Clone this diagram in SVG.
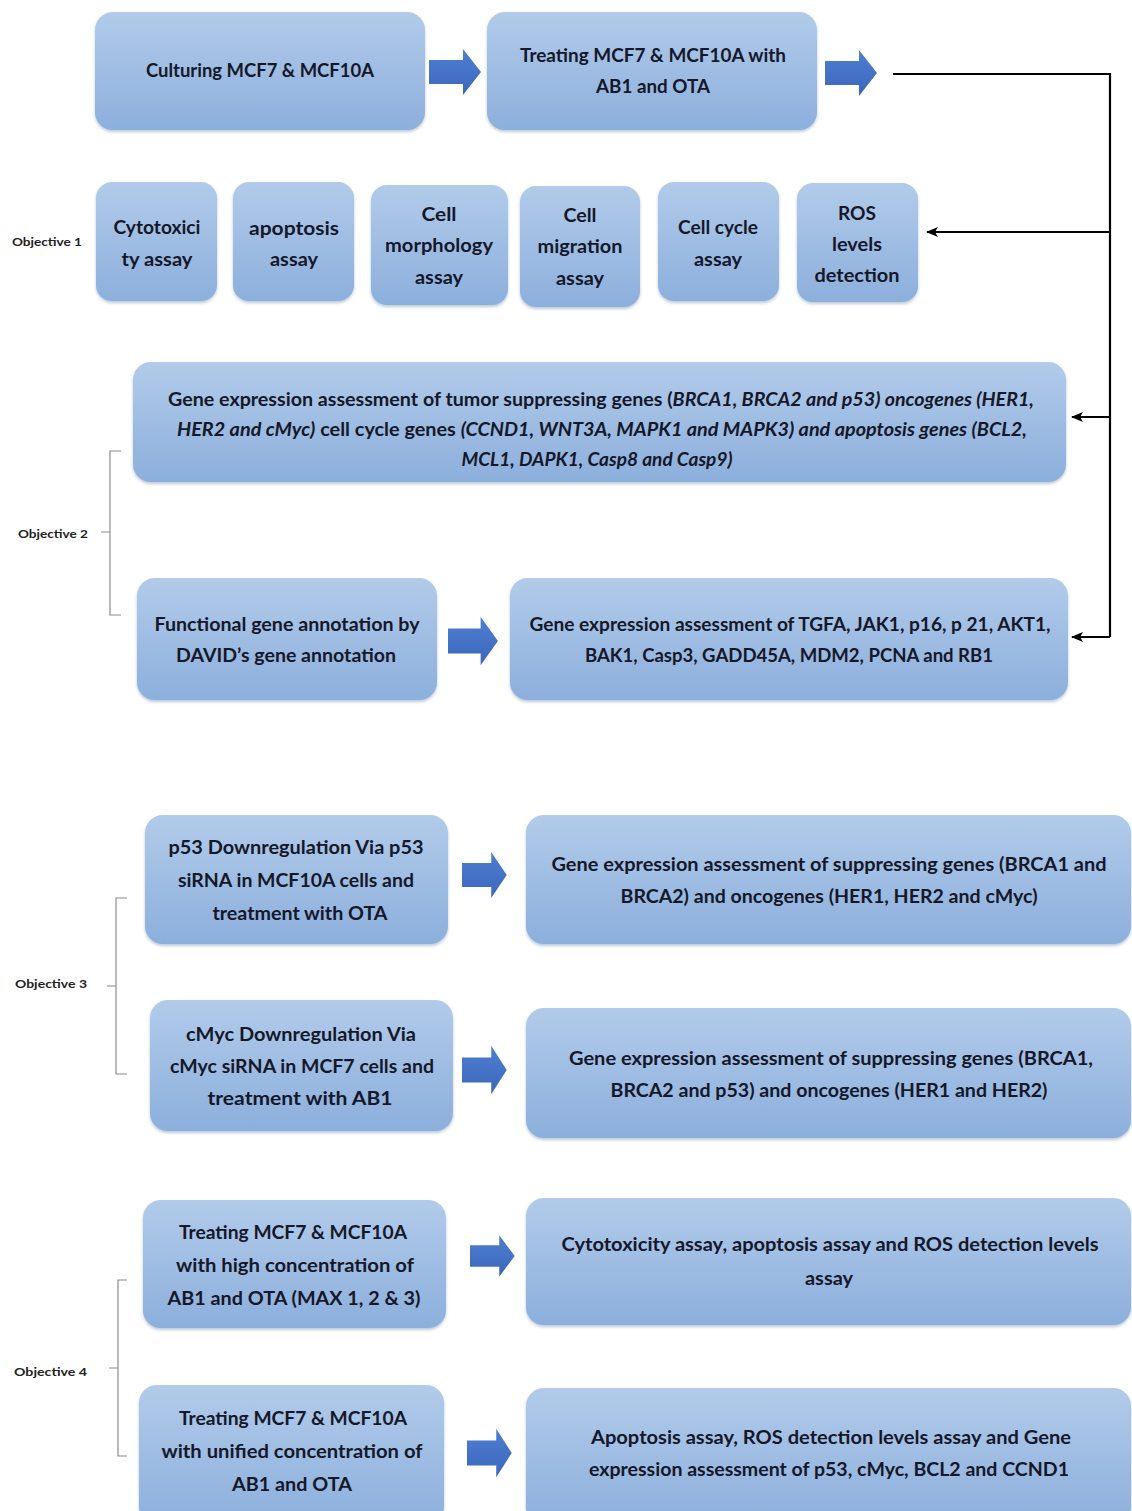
<svg xmlns="http://www.w3.org/2000/svg" width="1132" height="1511" viewBox="0 0 1132 1511">
<defs>
<linearGradient id="boxg" x1="0" y1="0" x2="0" y2="1">
<stop offset="0" stop-color="#b2cbea"/>
<stop offset="1" stop-color="#8cafdc"/>
</linearGradient>
<linearGradient id="arrg" x1="0" y1="0" x2="0" y2="1">
<stop offset="0" stop-color="#4f7fd0"/>
<stop offset="1" stop-color="#3b66bd"/>
</linearGradient>
<filter id="sh" x="-5%" y="-5%" width="110%" height="115%">
<feDropShadow dx="0" dy="2" stdDeviation="1.5" flood-color="#6a86ad" flood-opacity="0.45"/>
</filter>
<marker id="ah" markerWidth="12" markerHeight="10" refX="11" refY="5" orient="auto" markerUnits="userSpaceOnUse">
<path d="M0,0 L12,5 L0,10 L3,5 Z" fill="#000"/>
</marker>
<path id="barrow" d="M0,-12 H34 V-23 L52,0 L34,23 V12 H0 Z"/>
</defs>
<style>
.box{fill:url(#boxg);filter:url(#sh);}
.t{font-family:Lato,"Liberation Sans",sans-serif;font-weight:bold;font-size:18px;fill:#14182a;text-anchor:middle;}
.obj{font-family:Lato,"Liberation Sans",sans-serif;font-weight:bold;font-size:12px;fill:#222;}
.i{font-style:italic;}
.ba{fill:url(#arrg);}
.con{fill:none;stroke:#000;stroke-width:2.2;}
.br{fill:none;stroke:#8c8c8c;stroke-width:1.2;}
</style>
<rect width="1132" height="1511" fill="#fff"/>

<g id="connectors">
<path class="con" d="M893,74 H1110 V637"/>
<path class="con" d="M1110,232 H927" marker-end="url(#ah)"/>
<path class="con" d="M1110,417 H1072" marker-end="url(#ah)"/>
<path class="con" d="M1110,637 H1072" marker-end="url(#ah)"/>
<use href="#barrow" class="ba" transform="translate(429,72)"/>
<use href="#barrow" class="ba" transform="translate(825,73)"/>
<use href="#barrow" class="ba" transform="translate(448,641) scale(0.96,1.05)"/>
<use href="#barrow" class="ba" transform="translate(462,875) scale(0.86,1)"/>
<use href="#barrow" class="ba" transform="translate(462,1070) scale(0.86,1.05)"/>
<use href="#barrow" class="ba" transform="translate(470,1256) scale(0.86,0.9)"/>
<use href="#barrow" class="ba" transform="translate(467,1453) scale(0.86,1.05)"/>
</g>

<g id="brackets">
<path class="br" d="M121,451 H110 V615 H121 M110,532 H101"/>
<path class="br" d="M127,898 H116 V1074 H127 M116,986 H107"/>
<path class="br" d="M127,1280 H118 V1456 H127 M118,1368 H109"/>
</g>

<g id="labels">
<text class="obj" x="12" y="246" textLength="70" lengthAdjust="spacingAndGlyphs">Objective 1</text>
<text class="obj" x="18" y="538" textLength="70" lengthAdjust="spacingAndGlyphs">Objective 2</text>
<text class="obj" x="15" y="988" textLength="72" lengthAdjust="spacingAndGlyphs">Objective 3</text>
<text class="obj" x="14" y="1376" textLength="73" lengthAdjust="spacingAndGlyphs">Objective 4</text>
</g>

<g id="n-culturing">
<rect class="box" x="95" y="12" width="330" height="118" rx="18"/>
<text class="t" x="260" y="77" textLength="228" lengthAdjust="spacingAndGlyphs">Culturing MCF7 &amp; MCF10A</text>
</g>
<g id="n-treating">
<rect class="box" x="487" y="12" width="330" height="118" rx="18"/>
<text class="t" x="653" y="62" textLength="266" lengthAdjust="spacingAndGlyphs">Treating MCF7 &amp; MCF10A with</text>
<text class="t" x="653" y="93" textLength="114" lengthAdjust="spacingAndGlyphs">AB1 and OTA</text>
</g>

<g id="n-cytotox">
<rect class="box" x="96" y="182" width="121" height="119" rx="16"/>
<text class="t" x="157" y="234" textLength="87" lengthAdjust="spacingAndGlyphs">Cytotoxici</text>
<text class="t" x="157" y="266" textLength="71" lengthAdjust="spacingAndGlyphs">ty assay</text>
</g>
<g id="n-apoptosis">
<rect class="box" x="233" y="182" width="121" height="119" rx="16"/>
<text class="t" x="294" y="235" textLength="90" lengthAdjust="spacingAndGlyphs">apoptosis</text>
<text class="t" x="294" y="266" textLength="48" lengthAdjust="spacingAndGlyphs">assay</text>
</g>
<g id="n-morphology">
<rect class="box" x="371" y="185" width="137" height="120" rx="16"/>
<text class="t" x="439" y="221" textLength="35" lengthAdjust="spacingAndGlyphs">Cell</text>
<text class="t" x="439" y="252" textLength="108" lengthAdjust="spacingAndGlyphs">morphology</text>
<text class="t" x="439" y="284" textLength="48" lengthAdjust="spacingAndGlyphs">assay</text>
</g>
<g id="n-migration">
<rect class="box" x="520" y="186" width="120" height="121" rx="16"/>
<text class="t" x="580" y="222" textLength="33" lengthAdjust="spacingAndGlyphs">Cell</text>
<text class="t" x="580" y="253" textLength="85" lengthAdjust="spacingAndGlyphs">migration</text>
<text class="t" x="580" y="285" textLength="48" lengthAdjust="spacingAndGlyphs">assay</text>
</g>
<g id="n-cellcycle">
<rect class="box" x="658" y="182" width="121" height="119" rx="16"/>
<text class="t" x="718" y="234" textLength="80" lengthAdjust="spacingAndGlyphs">Cell cycle</text>
<text class="t" x="718" y="266" textLength="48" lengthAdjust="spacingAndGlyphs">assay</text>
</g>
<g id="n-ros">
<rect class="box" x="797" y="183" width="121" height="119" rx="16"/>
<text class="t" x="857" y="220" textLength="38" lengthAdjust="spacingAndGlyphs">ROS</text>
<text class="t" x="857" y="251" textLength="50" lengthAdjust="spacingAndGlyphs">levels</text>
<text class="t" x="857" y="282" textLength="85" lengthAdjust="spacingAndGlyphs">detection</text>
</g>

<g id="n-gene1">
<rect class="box" x="133" y="362" width="933" height="120" rx="18"/>
<text class="t" x="601" y="406" textLength="866" lengthAdjust="spacingAndGlyphs">Gene expression assessment of tumor suppressing genes (<tspan class="i">BRCA1, BRCA2 and p53) oncogenes (HER1,</tspan></text>
<text class="t" x="602" y="436" textLength="850" lengthAdjust="spacingAndGlyphs"><tspan class="i">HER2 and cMyc)</tspan> cell cycle genes <tspan class="i">(CCND1, WNT3A, MAPK1 and MAPK3) and apoptosis genes (BCL2,</tspan></text>
<text class="t i" x="597" y="466" textLength="271" lengthAdjust="spacingAndGlyphs">MCL1, DAPK1, Casp8 and Casp9)</text>
</g>

<g id="n-functional">
<rect class="box" x="137" y="578" width="300" height="122" rx="18"/>
<text class="t" x="287" y="631" textLength="265" lengthAdjust="spacingAndGlyphs">Functional gene annotation by</text>
<text class="t" x="286" y="662" textLength="220" lengthAdjust="spacingAndGlyphs">DAVID’s gene annotation</text>
</g>
<g id="n-gene2">
<rect class="box" x="510" y="578" width="558" height="122" rx="18"/>
<text class="t" x="790" y="631" textLength="521" lengthAdjust="spacingAndGlyphs">Gene expression assessment of TGFA, JAK1, p16, p 21, AKT1,</text>
<text class="t" x="789" y="662" textLength="408" lengthAdjust="spacingAndGlyphs">BAK1, Casp3, GADD45A, MDM2, PCNA and RB1</text>
</g>

<g id="n-p53">
<rect class="box" x="145" y="815" width="303" height="129" rx="18"/>
<text class="t" x="296" y="854" textLength="255" lengthAdjust="spacingAndGlyphs">p53 Downregulation Via p53</text>
<text class="t" x="296" y="887" textLength="236" lengthAdjust="spacingAndGlyphs">siRNA in MCF10A cells and</text>
<text class="t" x="300" y="920" textLength="175" lengthAdjust="spacingAndGlyphs">treatment with OTA</text>
</g>
<g id="n-gene3">
<rect class="box" x="526" y="815" width="605" height="129" rx="18"/>
<text class="t" x="829" y="871" textLength="555" lengthAdjust="spacingAndGlyphs">Gene expression assessment of suppressing genes (BRCA1 and</text>
<text class="t" x="829" y="903" textLength="417" lengthAdjust="spacingAndGlyphs">BRCA2) and oncogenes (HER1, HER2 and cMyc)</text>
</g>

<g id="n-cmyc">
<rect class="box" x="150" y="1000" width="303" height="131" rx="18"/>
<text class="t" x="301" y="1041" textLength="230" lengthAdjust="spacingAndGlyphs">cMyc Downregulation Via</text>
<text class="t" x="302" y="1073" textLength="264" lengthAdjust="spacingAndGlyphs">cMyc siRNA in MCF7 cells and</text>
<text class="t" x="300" y="1105" textLength="185" lengthAdjust="spacingAndGlyphs">treatment with AB1</text>
</g>
<g id="n-gene4">
<rect class="box" x="526" y="1008" width="605" height="130" rx="18"/>
<text class="t" x="831" y="1065" textLength="524" lengthAdjust="spacingAndGlyphs">Gene expression assessment of suppressing genes (BRCA1,</text>
<text class="t" x="829" y="1097" textLength="437" lengthAdjust="spacingAndGlyphs">BRCA2 and p53) and oncogenes (HER1 and HER2)</text>
</g>

<g id="n-high">
<rect class="box" x="143" y="1200" width="303" height="128" rx="18"/>
<text class="t" x="293" y="1239" textLength="228" lengthAdjust="spacingAndGlyphs">Treating MCF7 &amp; MCF10A</text>
<text class="t" x="295" y="1272" textLength="238" lengthAdjust="spacingAndGlyphs">with high concentration of</text>
<text class="t" x="294" y="1305" textLength="253" lengthAdjust="spacingAndGlyphs">AB1 and OTA (MAX 1, 2 &amp; 3)</text>
</g>
<g id="n-cytoassays">
<rect class="box" x="526" y="1198" width="605" height="127" rx="18"/>
<text class="t" x="830" y="1251" textLength="537" lengthAdjust="spacingAndGlyphs">Cytotoxicity assay, apoptosis assay and ROS detection levels</text>
<text class="t" x="829" y="1285" textLength="48" lengthAdjust="spacingAndGlyphs">assay</text>
</g>

<g id="n-unified">
<rect class="box" x="139" y="1385" width="305" height="140" rx="18"/>
<text class="t" x="293" y="1425" textLength="228" lengthAdjust="spacingAndGlyphs">Treating MCF7 &amp; MCF10A</text>
<text class="t" x="292" y="1458" textLength="261" lengthAdjust="spacingAndGlyphs">with unified concentration of</text>
<text class="t" x="292" y="1491" textLength="120" lengthAdjust="spacingAndGlyphs">AB1 and OTA</text>
</g>
<g id="n-apoassays">
<rect class="box" x="526" y="1388" width="605" height="137" rx="18"/>
<text class="t" x="831" y="1444" textLength="480" lengthAdjust="spacingAndGlyphs">Apoptosis assay, ROS detection levels assay and Gene</text>
<text class="t" x="829" y="1476" textLength="480" lengthAdjust="spacingAndGlyphs">expression assessment of p53, cMyc, BCL2 and CCND1</text>
</g>
</svg>
